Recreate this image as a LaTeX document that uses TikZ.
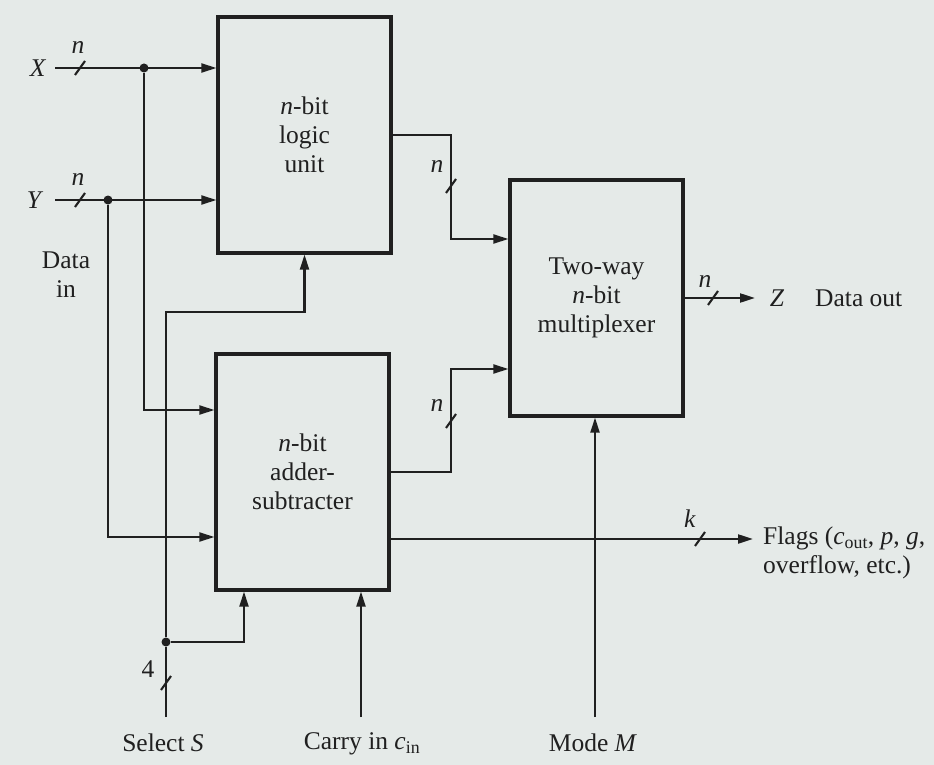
\documentclass[tikz,border=0pt]{standalone}
\usepackage{fontspec}
\setmainfont{Liberation Serif}
\usetikzlibrary{arrows.meta,calc}
\definecolor{bg}{RGB}{229,234,232}
\definecolor{ink}{RGB}{32,32,32}
\tikzset{
  blk/.style={draw=ink, line width=3.2pt, minimum width=173pt, minimum height=236pt, inner sep=0pt, align=center, text=ink},
  wire/.style={draw=ink, line width=2.1pt},
  arr/.style={wire, -{Triangle[length=15pt,width=9pt]}},
  jdot/.style={circle, fill=ink, inner sep=0pt, minimum size=9pt},
  lbl/.style={text=ink, inner sep=0pt},
  bus/.pic={\draw[wire] (-5,7) -- (5,-7);}
}
\begin{document}
\begin{tikzpicture}[x=1pt,y=-1pt, every node/.style={font=\fontsize{25.5}{29}\selectfont}]
\useasboundingbox (0,0) rectangle (934,765);
\fill[bg] (0,0) rectangle (934,765);

% blocks
\node[blk] (logic) at (304.5,135) {\textit{n}-bit\\logic\\unit};
\node[blk] (adder) at (302.5,472) {\textit{n}-bit\\adder-\\subtracter};
\node[blk] (mux) at (596.5,298) {Two-way\\\textit{n}-bit\\multiplexer};

% ports / coordinates
\coordinate (xs) at (55,68);
\coordinate (ys) at (55,200);
\coordinate (ainX) at (adder.west |- 0,410);
\coordinate (ainY) at (adder.west |- 0,537);
\coordinate (sS) at (166,717);
\coordinate (tS) at (166,312);
\coordinate (aS) at (adder.south -| 244,0);
\coordinate (cS) at (361,717);
\coordinate (mS) at (595,717);
\coordinate (tL) at (451,239);
\coordinate (mA) at (mux.west |- 0,239);
\coordinate (tA) at (451,369);
\coordinate (mB) at (mux.west |- 0,369);
\coordinate (fA) at (adder.east |- 0,539);
\coordinate (fE) at (753,539);
\coordinate (zE) at (755,298);

\node[jdot] (dX) at (144,68) {};
\node[jdot] (dY) at (108,200) {};
\node[jdot] (dS) at (166,642) {};

% wires
\draw[arr] (xs) -- (logic.west |- xs);
\draw[arr] (ys) -- (logic.west |- ys);
\draw[arr] (dX) |- (ainX);
\draw[arr] (dY) |- (ainY);
\draw[wire] (sS) -- (dS);
\draw[arr] (dS) -- (tS) -| (logic.south);
\draw[arr] (dS) -| (aS);
\draw[arr] (cS) -- (cS |- adder.south);
\draw[arr] (mS) -- (mS |- mux.south);
\draw[arr] (logic.east) -| (tL) -- (mA);
\draw[arr] (adder.east) -| (tA) -- (mB);
\draw[arr] (fA) -- (fE);
\draw[arr] (mux.east) -- (zE);

% bus slashes
\pic at (80,68) {bus};
\pic at (80,200) {bus};
\pic at (451,186) {bus};
\pic at (451,421) {bus};
\pic at (713,298) {bus};
\pic at (700,539) {bus};
\pic at (166,683) {bus};

% labels
\node[lbl] (lX) at (38,68) {\textit{X}};
\node[lbl] (lY) at (35,200) {\textit{Y}};
\node[lbl] (nX) at (78,47) {\textit{n}};
\node[lbl] (nY) at (78,179) {\textit{n}};
\node[lbl, align=center] (din) at (66,275) {Data\\in};
\node[lbl] (nL) at (437,166) {\textit{n}};
\node[lbl] (nA) at (437,405) {\textit{n}};
\node[lbl] (nZ) at (705,281) {\textit{n}};
\node[lbl] (lZ) at (777,298) {\textit{Z}};
\node[lbl, anchor=west] (dout) at (815,298) {Data out};
\node[lbl] (kF) at (690,519) {\textit{k}};
\node[lbl, anchor=west, align=left] (flags) at (763,553) {Flags (\textit{c}\textsubscript{out}, \textit{p}, \textit{g},\\overflow, etc.)};
\node[lbl] (four) at (148,669) {4};
\node[lbl] (selS) at (163,743) {Select \textit{S}};
\node[lbl] (carry) at (362,744) {Carry in \textit{c}\textsubscript{in}};
\node[lbl] (mode) at (593,743) {Mode \textit{M}};
\end{tikzpicture}
\end{document}
